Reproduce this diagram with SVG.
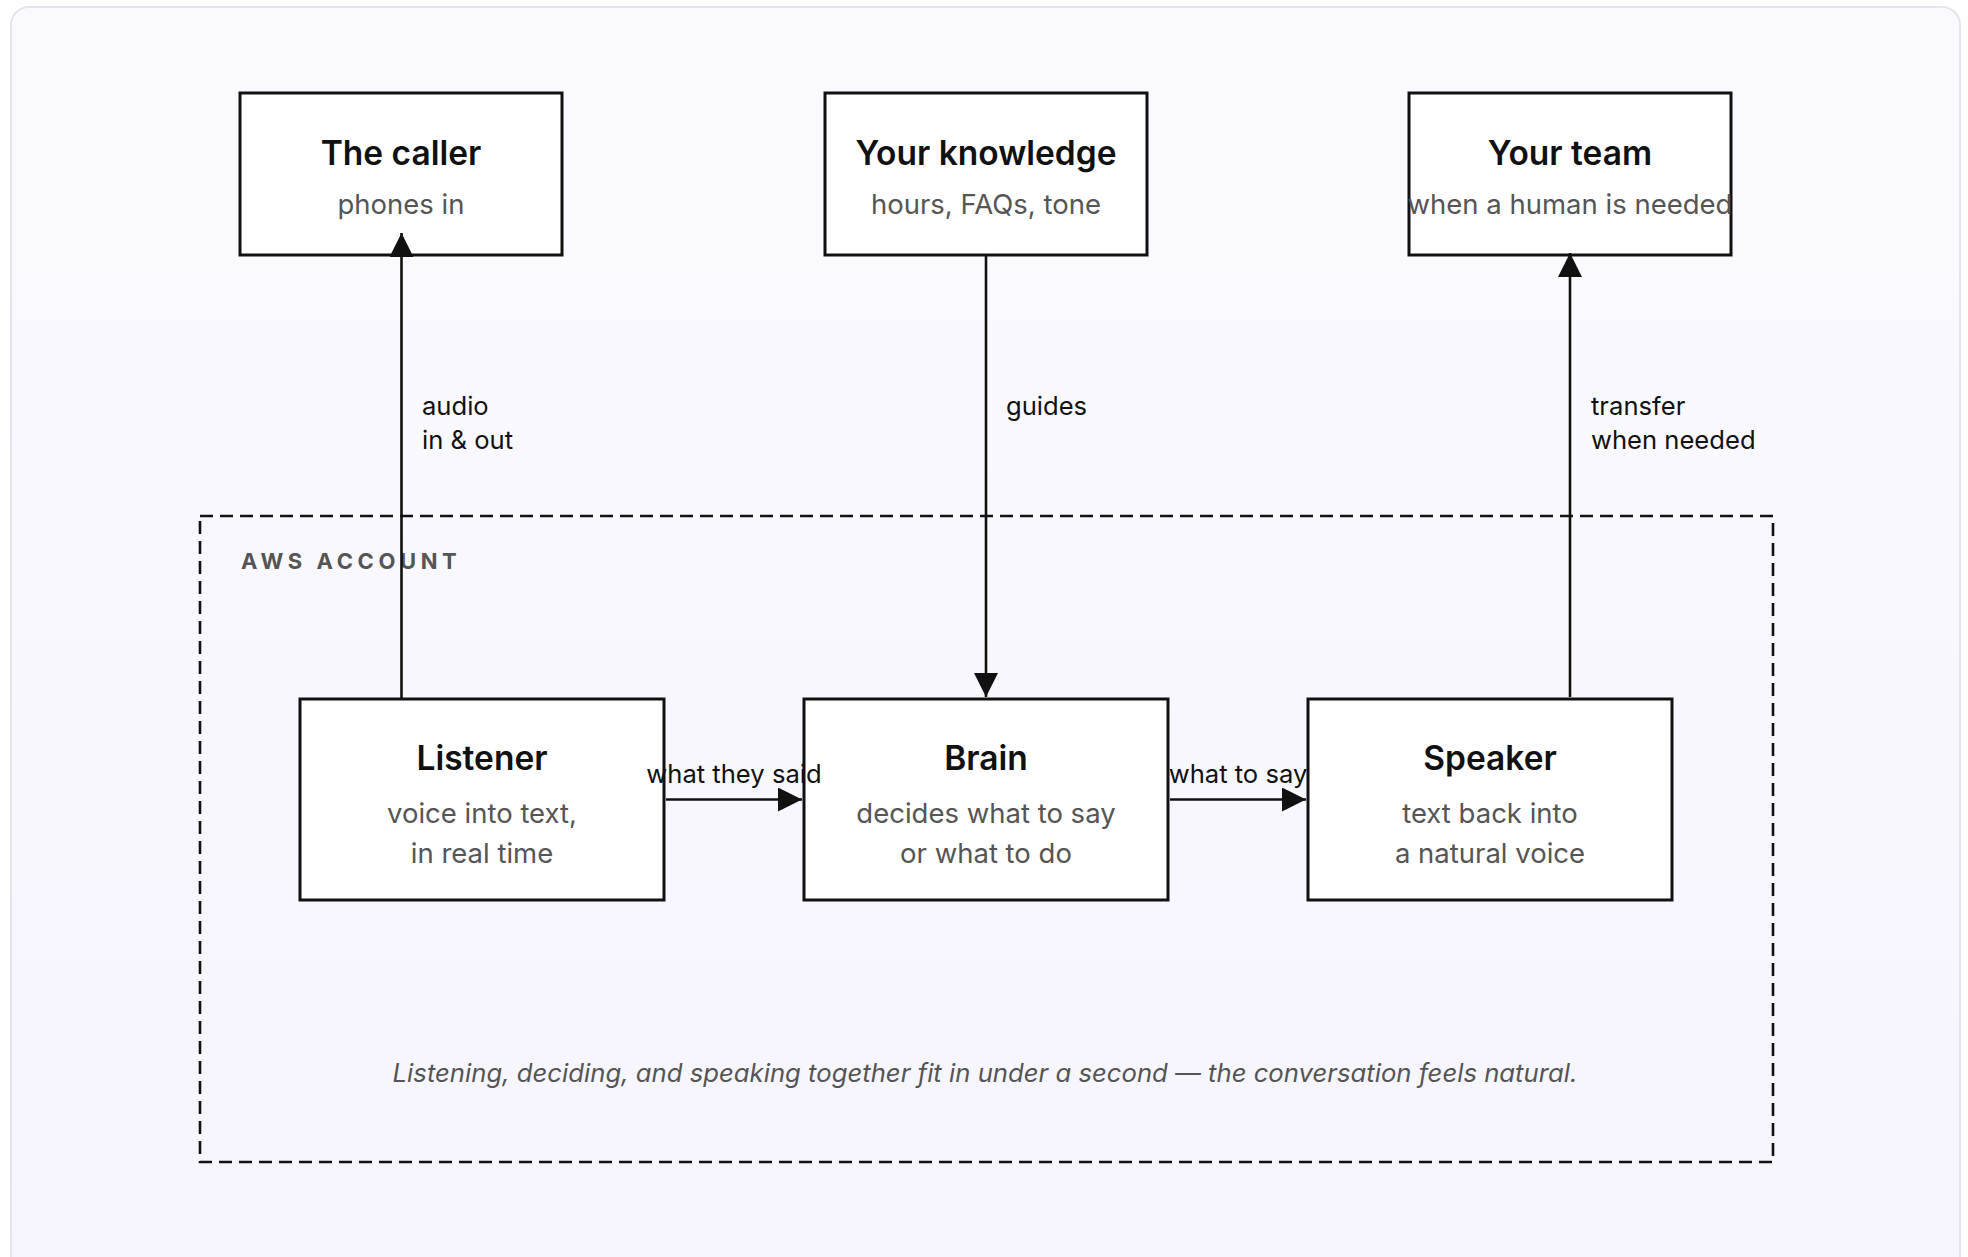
<svg xmlns="http://www.w3.org/2000/svg" width="1968" height="1257" viewBox="0 0 1968 1257">
  <defs>
    <linearGradient id="cardFill" x1="0" y1="0" x2="0" y2="1">
      <stop offset="0" stop-color="#fafafe"/>
      <stop offset="1" stop-color="#f6f5fe"/>
    </linearGradient>
    <marker id="arrow" viewBox="0 0 24 24" refX="24" refY="12" markerWidth="24" markerHeight="24" markerUnits="userSpaceOnUse" orient="auto">
      <path d="M0,0 L24,12 L0,24 z" fill="#111111"/>
    </marker>
    <style>
      .box { fill: #ffffff; stroke: #111111; stroke-width: 3; }
      .title { font-family: Inter, "Liberation Sans", sans-serif; font-weight: 600; font-size: 33.5px; fill: #111111; text-anchor: middle; }
      .sub { font-family: Inter, "Liberation Sans", sans-serif; font-weight: 400; font-size: 27.5px; fill: #555555; text-anchor: middle; }
      .edge { stroke: #111111; stroke-width: 2.6; fill: none; marker-end: url(#arrow); }
      .elabel { font-family: Inter, "Liberation Sans", sans-serif; font-weight: 400; font-size: 25.6px; fill: #111111; }
      .zone { fill: none; stroke: #111111; stroke-width: 2.6; stroke-dasharray: 13 7; }
      .zlabel { font-family: Inter, "Liberation Sans", sans-serif; font-weight: 700; font-size: 22px; fill: #555555; letter-spacing: 4.6px; }
      .note { font-family: Inter, "Liberation Sans", sans-serif; font-style: italic; font-size: 25.7px; fill: #555555; text-anchor: middle; }
    </style>
  </defs>

  <!-- page and card -->
  <rect width="1968" height="1257" fill="#ffffff"/>
  <rect x="11" y="7" width="1949" height="1270" rx="18" fill="url(#cardFill)" stroke="#e4e4ec" stroke-width="2"/>

  <!-- AWS account boundary -->
  <g id="aws-account">
    <rect class="zone" x="200" y="516" width="1573" height="646"/>
    <text class="zlabel" x="241" y="569">AWS ACCOUNT</text>
    <text class="note" x="985" y="1082">Listening, deciding, and speaking together fit in under a second — the conversation feels natural.</text>
  </g>

  <!-- outside parties -->
  <g id="caller">
    <rect class="box" x="240" y="93" width="322" height="162"/>
    <text class="title" x="401" y="165">The caller</text>
    <text class="sub" x="401" y="214">phones in</text>
  </g>
  <g id="knowledge">
    <rect class="box" x="825" y="93" width="322" height="162"/>
    <text class="title" x="986" y="165">Your knowledge</text>
    <text class="sub" x="986" y="214">hours, FAQs, tone</text>
  </g>
  <g id="team">
    <rect class="box" x="1409" y="93" width="322" height="162"/>
    <text class="title" x="1570" y="165">Your team</text>
    <text class="sub" x="1570" y="214">when a human is needed</text>
  </g>

  <!-- pipeline inside the account -->
  <g id="listener">
    <rect class="box" x="300" y="699" width="364" height="201"/>
    <text class="title" x="482" y="770">Listener</text>
    <text class="sub" x="482" y="823">voice into text,</text>
    <text class="sub" x="482" y="863">in real time</text>
  </g>
  <g id="brain">
    <rect class="box" x="804" y="699" width="364" height="201"/>
    <text class="title" x="986" y="770">Brain</text>
    <text class="sub" x="986" y="823">decides what to say</text>
    <text class="sub" x="986" y="863">or what to do</text>
  </g>
  <g id="speaker">
    <rect class="box" x="1308" y="699" width="364" height="201"/>
    <text class="title" x="1490" y="770">Speaker</text>
    <text class="sub" x="1490" y="823">text back into</text>
    <text class="sub" x="1490" y="863">a natural voice</text>
  </g>

  <!-- connectors -->
  <g id="connectors">
    <line class="edge" x1="401.5" y1="699" x2="401.5" y2="233"/>
    <text class="elabel" x="422" y="415">audio</text>
    <text class="elabel" x="422" y="449">in &amp; out</text>

    <line class="edge" x1="986" y1="255" x2="986" y2="697"/>
    <text class="elabel" x="1006" y="415">guides</text>

    <line class="edge" x1="1570" y1="697" x2="1570" y2="253"/>
    <text class="elabel" x="1591" y="415">transfer</text>
    <text class="elabel" x="1591" y="449">when needed</text>

    <line class="edge" x1="666" y1="799.5" x2="802" y2="799.5"/>
    <text class="elabel" x="734" y="783" text-anchor="middle">what they said</text>

    <line class="edge" x1="1170" y1="799.5" x2="1306" y2="799.5"/>
    <text class="elabel" x="1238" y="783" text-anchor="middle">what to say</text>
  </g>
</svg>
